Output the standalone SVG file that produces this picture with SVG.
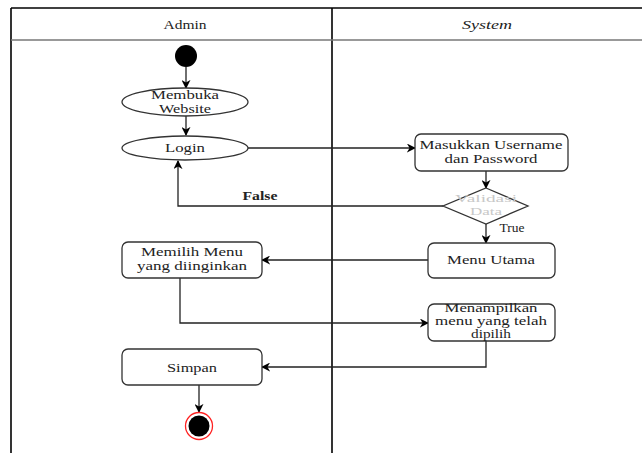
<svg xmlns="http://www.w3.org/2000/svg" width="642" height="453" viewBox="0 0 642 453">
<style>
text{font-family:"Liberation Serif","Times New Roman",serif;font-size:13px;fill:#222;text-anchor:middle}
.s{font-size:12px}
.g{fill:#c8c8c8;font-size:11px}
.n{fill:#fff;stroke:#333;stroke-width:1.3}
.c{fill:none;stroke:#222;stroke-width:1.3}
.lane{stroke:#000;stroke-width:1.6;fill:none}
</style>
<defs>
<marker id="a" viewBox="0 0 10 10" refX="9" refY="5" markerWidth="9" markerHeight="9" markerUnits="userSpaceOnUse" orient="auto">
<path d="M0,0 L10,5 L0,10 L3,5 z" fill="#000"/>
</marker>
</defs>
<g id="lanes">
<line class="lane" x1="11" y1="8" x2="642" y2="8"/>
<line class="lane" x1="11" y1="8" x2="11" y2="453"/>
<line class="lane" x1="332" y1="8" x2="332" y2="453"/>
<line x1="11" y1="40" x2="642" y2="40" stroke="#777" stroke-width="1.3"/>
<text x="185" y="29" textLength="43" lengthAdjust="spacingAndGlyphs">Admin</text>
<text x="487" y="29" font-style="italic" textLength="50" lengthAdjust="spacingAndGlyphs">System</text>
</g>
<g id="connectors">
<line class="c" x1="186" y1="67" x2="186" y2="88" marker-end="url(#a)"/>
<line class="c" x1="186" y1="116" x2="186" y2="135" marker-end="url(#a)"/>
<line class="c" x1="248" y1="148" x2="415" y2="148" marker-end="url(#a)"/>
<line class="c" x1="486" y1="171" x2="486" y2="188" marker-end="url(#a)"/>
<line class="c" x1="486" y1="224" x2="486" y2="243" marker-end="url(#a)"/>
<polyline class="c" points="443,206 178,206 178,161" marker-end="url(#a)"/>
<line class="c" x1="428" y1="260" x2="262" y2="260" marker-end="url(#a)"/>
<polyline class="c" points="180,278 180,323 428,323" marker-end="url(#a)"/>
<polyline class="c" points="486,341 486,367 262,367" marker-end="url(#a)"/>
<line class="c" x1="199" y1="385" x2="199" y2="412" marker-end="url(#a)"/>
<text x="260" y="200" font-weight="bold" textLength="35" lengthAdjust="spacingAndGlyphs">False</text>
<text x="512" y="232" font-size="11" textLength="25" lengthAdjust="spacingAndGlyphs">True</text>
</g>
<g id="start"><circle cx="186" cy="56" r="11" fill="#000"/></g>
<g id="membuka">
<ellipse class="n" cx="185" cy="102" rx="63" ry="14"/>
<text x="185" y="99" textLength="68" lengthAdjust="spacingAndGlyphs">Membuka</text>
<text x="185" y="113" textLength="52" lengthAdjust="spacingAndGlyphs">Website</text>
</g>
<g id="login">
<ellipse class="n" cx="185" cy="148" rx="63" ry="12"/>
<text x="185" y="152" textLength="40" lengthAdjust="spacingAndGlyphs">Login</text>
</g>
<g id="masukkan">
<rect class="n" x="415" y="134" width="153" height="37" rx="6"/>
<text x="491" y="149" textLength="143" lengthAdjust="spacingAndGlyphs">Masukkan Username</text>
<text x="491" y="163" textLength="93" lengthAdjust="spacingAndGlyphs">dan Password</text>
</g>
<g id="validasi">
<polygon class="n" points="486,188 528,206 486,224 443,206"/>
<text class="g" x="486" y="202" textLength="62" lengthAdjust="spacingAndGlyphs">Validasi</text>
<text class="g" x="486" y="215" textLength="32" lengthAdjust="spacingAndGlyphs">Data</text>
</g>
<g id="menuutama">
<rect class="n" x="428" y="243" width="127" height="35" rx="6"/>
<text x="491" y="264" textLength="88" lengthAdjust="spacingAndGlyphs">Menu Utama</text>
</g>
<g id="memilih">
<rect class="n" x="122" y="242" width="140" height="36" rx="6"/>
<text class="s" x="192" y="256" textLength="102" lengthAdjust="spacingAndGlyphs">Memilih Menu</text>
<text class="s" x="192" y="270" textLength="110" lengthAdjust="spacingAndGlyphs">yang diinginkan</text>
</g>
<g id="menampilkan">
<rect class="n" x="428" y="304" width="127" height="37" rx="6"/>
<text class="s" x="491" y="312" textLength="93" lengthAdjust="spacingAndGlyphs">Menampilkan</text>
<text class="s" x="491" y="325" textLength="112" lengthAdjust="spacingAndGlyphs">menu yang telah</text>
<text class="s" x="491" y="338" textLength="40" lengthAdjust="spacingAndGlyphs">dipilih</text>
</g>
<g id="simpan">
<rect class="n" x="122" y="349" width="140" height="36" rx="6"/>
<text x="192" y="372" textLength="50" lengthAdjust="spacingAndGlyphs">Simpan</text>
</g>
<g id="end">
<circle cx="199" cy="426" r="13.5" fill="#fff" stroke="#f22" stroke-width="1.3"/>
<circle cx="199" cy="426" r="10.5" fill="#000"/>
</g>
</svg>
